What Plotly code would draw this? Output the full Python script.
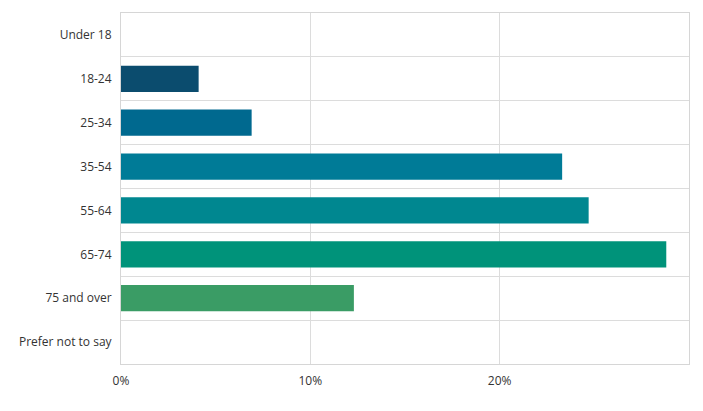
import plotly.graph_objects as go

categories = ["Under 18", "18-24", "25-34", "35-54", "55-64", "65-74", "75 and over", "Prefer not to say"]
values = [0, 4.1, 6.9, 23.3, 24.7, 28.8, 12.3, 0]
colors = ["#0b4c6e", "#0b4c6e", "#00698f", "#007b97", "#008790", "#00937a", "#3a9c65", "#3a9c65"]
x_ticks = [0, 10, 20]
x_tick_labels = ["0%", "10%", "20%"]

positions = list(range(len(categories)))

fig = go.Figure(go.Bar(
    x=values, y=positions, orientation="h",
    marker=dict(color=colors, line=dict(width=0)),
    width=0.6, hoverinfo="skip",
))

font = dict(family="Open Sans, Noto Sans, sans-serif", size=12, color="#333333")
fig.update_layout(
    width=695, height=403,
    margin=dict(l=113, r=14, t=5, b=47),
    paper_bgcolor="white", plot_bgcolor="white",
    font=font, showlegend=False,
    xaxis=dict(range=[0, 30], tickvals=x_ticks, ticktext=x_tick_labels,
               showgrid=True, gridcolor="#dcdcdc", gridwidth=1,
               showline=True, linecolor="#d6d6d6", linewidth=1, mirror=True,
               ticks="outside", ticklen=6, tickcolor="rgba(0,0,0,0)",
               zeroline=False, fixedrange=True),
    yaxis=dict(range=[7.5, -0.5], tickvals=positions, ticktext=categories,
               showgrid=False, showline=True, linecolor="#d6d6d6", linewidth=1, mirror=True,
               ticks="outside", ticklen=6, tickcolor="rgba(0,0,0,0)",
               zeroline=False,
               minor=dict(tick0=0.5, dtick=1, showgrid=True, gridcolor="#dcdcdc", gridwidth=1, ticks=""),
               fixedrange=True),
)

fig.write_html("out.html")
